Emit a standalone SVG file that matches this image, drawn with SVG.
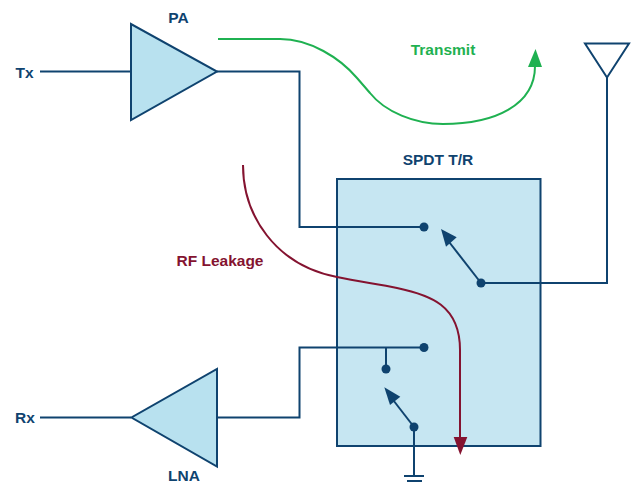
<svg xmlns="http://www.w3.org/2000/svg" width="632" height="483" viewBox="0 0 632 483">
<style>
.w{fill:none;stroke:#0f436f;stroke-width:2}
.t{font-family:"Liberation Sans",Arial,sans-serif;font-weight:700;font-size:15.500px;fill:#0f436f}
.d{fill:#0f436f}
</style>
<rect width="632" height="483" fill="#fff"/>
<g id="switch"><rect x="337" y="179" width="203.500" height="267" fill="#c6e6f2" stroke="#0f436f" stroke-width="2"/>
<text class="t" x="438" y="165" text-anchor="middle">SPDT T/R</text></g>
<g id="connectors">
<path class="w" d="M40 71.500H131M217 71.500H299.500V227H424"/>
<path class="w" d="M481 283H607V78"/>
<path class="w" d="M481 283L446 238"/>
<path class="d" d="M441 229L456.700 237.300L446 246.700Z"/>
<path class="w" d="M414 427L390 396"/>
<path class="d" d="M384.300 387.300L400.300 396.700L390 405Z"/>
<path class="w" d="M40 417.500H131M217 417.500H299.500V347.500H424M386 347.500V369"/>
<path class="w" d="M414 427V476"/>
<path class="w" d="M404 476H424M407 481H422"/>
<circle class="d" cx="424" cy="227" r="4.500"/><circle class="d" cx="481" cy="283" r="4.500"/>
<circle class="d" cx="424" cy="347.500" r="4.500"/><circle class="d" cx="386" cy="369" r="4.500"/><circle class="d" cx="414" cy="427" r="4.500"/>
<path d="M218 39H280C310 39 340 58 357 78L370 93C385 112 415 124 443 124C495 124 535 105 535 66" fill="none" stroke="#1fb151" stroke-width="2"/>
<path d="M535.500 49L542 67H528Z" fill="#1fb151"/>
<path d="M243 165C243 215 275 265 337 277C360 282 380 284 397 288C430 295 460 305 460 350V438" fill="none" stroke="#841330" stroke-width="2"/>
<path d="M460.300 455L453.700 437H467.300Z" fill="#841330"/>
</g>
<g id="pa"><path d="M131 24V120L217 71.500Z" fill="#b8e1ef" stroke="#0f436f" stroke-width="2"/><text class="t" x="178.500" y="23" text-anchor="middle">PA</text></g>
<g id="lna"><path d="M217 369V466.500L131.500 417.500Z" fill="#b8e1ef" stroke="#0f436f" stroke-width="2"/><text class="t" x="184" y="481" text-anchor="middle">LNA</text></g>
<g id="antenna"><path class="w" d="M585 43.500H629L607 77.500Z"/></g>
<g id="labels">
<text class="t" x="24.500" y="77.500" text-anchor="middle">Tx</text>
<text class="t" x="25" y="423" text-anchor="middle">Rx</text>
<text class="t" x="443" y="55" text-anchor="middle" style="fill:#1fb151">Transmit</text>
<text class="t" x="220" y="266" text-anchor="middle" style="fill:#841330">RF Leakage</text>
</g>
</svg>
